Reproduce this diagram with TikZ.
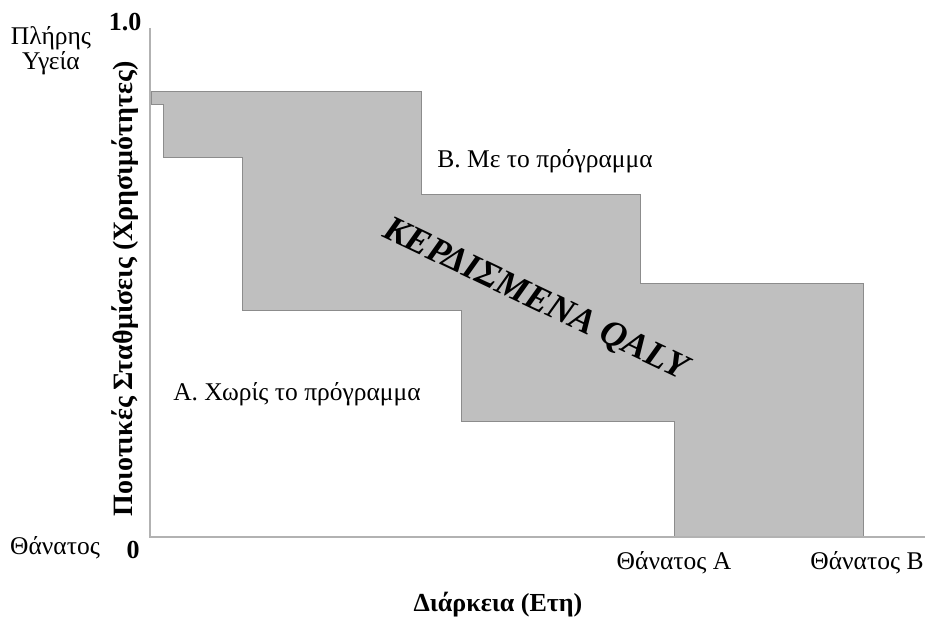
\documentclass[tikz,border=0pt]{standalone}
\usepackage{fontspec}
\setmainfont{Liberation Serif}
\begin{document}
\begin{tikzpicture}[x=1pt,y=-1pt,
  lbl/.style={inner sep=0pt, font=\fontsize{25.5}{28}\selectfont},
  blbl/.style={inner sep=0pt, font=\fontsize{26}{28}\selectfont\bfseries},
  axisline/.style={draw=black!30, line width=1.4pt},
  gain/.style={fill=black!25, draw=black!45, line width=0.9pt}]
\useasboundingbox (0,0) rectangle (925,618);

% area gained between the two utility paths
\draw[gain] (151,91) -- (421,91) -- (421,194) -- (640,194) -- (640,283)
  -- (863,283) -- (863,537) -- (674,537) -- (674,421) -- (461,421)
  -- (461,310) -- (242,310) -- (242,157) -- (163,157) -- (163,104)
  -- (151,104) -- cycle;

% axes
\coordinate (origin) at (150,537);
\coordinate (ytop) at (150,28);
\coordinate (xend) at (925,537);
\draw[axisline] (ytop) -- (origin) -- (xend);

% axis values and labels
\node[blbl] (one) at (125,22) {1.0};
\node[blbl] (zero) at (133,550) {0};
\node[lbl] (full1) at (51,38) {Πλήρης};
\node[lbl] (full2) at (51,63) {Υγεία};
\node[lbl] (death) at (55,548) {Θάνατος};
\node[lbl] (deathA) at (674,563) {Θάνατος A};
\node[lbl] (deathB) at (867,563) {Θάνατος B};
\node[blbl] (xlab) at (498,605) {Διάρκεια (Ετη)};
\node[inner sep=0pt, rotate=90, font=\fontsize{28}{30}\selectfont\bfseries] (ylab) at (125,289) {Ποιοτικές Σταθμίσεις (Χρησιμότητες)};

% path labels
\node[lbl] (withp) at (545,161) {B. Με το πρόγραμμα};
\node[lbl] (without) at (297,394) {A. Χωρίς το πρόγραμμα};
\node[inner sep=0pt, rotate=-25.5, font=\fontsize{36}{40}\selectfont\bfseries\itshape] (gained) at (535,300) {ΚΕΡΔΙΣΜΕΝΑ QALY};
\end{tikzpicture}
\end{document}
